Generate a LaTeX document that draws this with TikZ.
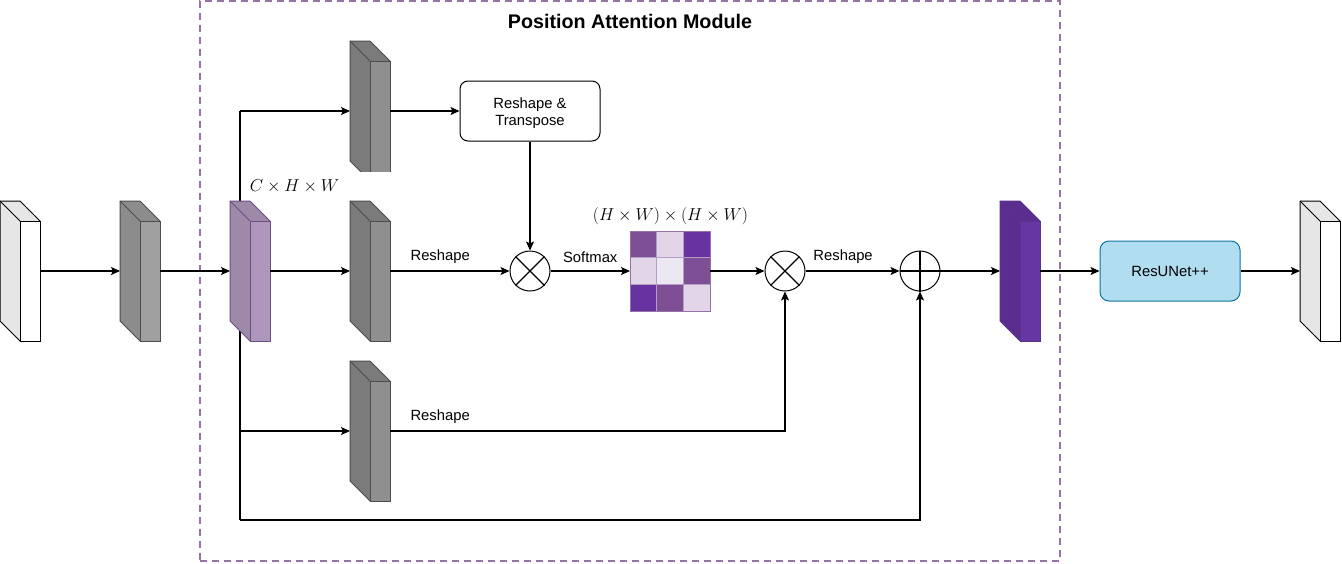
\documentclass[tikz,border=0pt]{standalone}
\usepackage{fontspec}
\setmainfont{Liberation Sans}
\usetikzlibrary{arrows.meta}
\definecolor{pamline}{HTML}{9673A6}
\definecolor{whiteside}{HTML}{E6E6E6}
\definecolor{g1side}{HTML}{8C8C8C}
\definecolor{g1front}{HTML}{A0A0A0}
\definecolor{g2side}{HTML}{7B7B7B}
\definecolor{g2front}{HTML}{8F8F8F}
\definecolor{gstroke}{HTML}{4D4D4D}
\definecolor{lpside}{HTML}{9E89A9}
\definecolor{lpfront}{HTML}{AE96BC}
\definecolor{lpstroke}{HTML}{6C4F83}
\definecolor{dpside}{HTML}{5B2D8E}
\definecolor{dpfront}{HTML}{6636A3}
\definecolor{dpstroke}{HTML}{5A3290}
\definecolor{mdark}{HTML}{6633A0}
\definecolor{mmid}{HTML}{7F4F96}
\definecolor{mlight}{HTML}{E1D5E7}
\definecolor{mpale}{HTML}{ECE8F2}
\definecolor{mgrid}{HTML}{B59CC6}
\definecolor{resfill}{HTML}{B1DDF0}
\definecolor{resline}{HTML}{10739E}
\newcommand{\mycube}[6]{%
  \node[minimum width=40, minimum height=140, inner sep=0, outer sep=0] (#1) at (#2+20,#3+70) {};
  \filldraw[fill=#4, draw=#6, line width=1pt, line join=round]
    (#2,#3) -- (#2+20,#3) -- (#2+40,#3+20) -- (#2+40,#3+140) -- (#2+20,#3+140) -- (#2,#3+120) -- cycle;
  \draw[draw=#6, line width=1pt] (#2,#3) -- (#2+20,#3+20);
  \filldraw[fill=#5, draw=#6, line width=1pt] (#2+20,#3+20) rectangle (#2+40,#3+140);
}
\tikzset{
  arr/.style={line width=1.1pt, -{Stealth[length=9pt, width=8pt, inset=2pt]}},
  ln/.style={line width=1.1pt},
  lbl/.style={font=\fontsize{14.8}{17}\selectfont, inner sep=0pt},
  opnode/.style={circle, draw, line width=1pt, minimum size=40, inner sep=0, fill=white},
  cell/.style={draw=mgrid, line width=1pt, minimum size=80/3, inner sep=0, outer sep=0},
}
\begin{document}
\begin{tikzpicture}[x=1pt, y=-1pt]
\useasboundingbox (0,0) rectangle (1342,563);
% module frame
\node[draw=pamline, dashed, dash pattern=on 7pt off 5pt, line width=1.5pt, minimum width=860, minimum height=560, inner sep=0] (pam) at (630,281) {};
\node[font=\fontsize{19.7}{22}\selectfont\bfseries, inner sep=0] (title) at (630,21) {Position Attention Module};
% branch lines behind cubes
\coordinate (j1) at (240,111);
\coordinate (j3) at (240,431);
\coordinate (j2) at (240,520);
\draw[ln] (j1) -- (j2);
% cubes
\mycube{c0}{0}{201}{whiteside}{white}{black}
\mycube{c1}{120}{201}{g1side}{g1front}{gstroke}
\mycube{c2}{230}{201}{lpside}{lpfront}{lpstroke}
\begin{scope}
  \clip (300,0) rectangle (400,171.5);
  \mycube{ct}{350}{41}{g2side}{g2front}{gstroke}
\end{scope}
\mycube{cm}{350}{201}{g2side}{g2front}{gstroke}
\mycube{cb}{350}{361}{g2side}{g2front}{gstroke}
\mycube{c4}{1000}{201}{dpside}{dpfront}{dpstroke}
\mycube{c5}{1300}{201}{whiteside}{white}{black}
% operators and boxes
\node[draw, line width=1pt, rounded corners=8pt, minimum width=140, minimum height=60, align=center, font=\fontsize{14.8}{18}\selectfont] (rt) at (530,111) {};
\node[align=center, font=\fontsize{14.8}{17.5}\selectfont, inner sep=0] (rtx) at (530,113) {Reshape \&\\Transpose};
\node[opnode] (m1) at (530,271) {};
\draw[ln] (m1.north west) -- (m1.south east) (m1.north east) -- (m1.south west);
\node[opnode] (m2) at (785,271) {};
\draw[ln] (m2.north west) -- (m2.south east) (m2.north east) -- (m2.south west);
\node[opnode] (p) at (920,271) {};
\draw[ln] (p.north) -- (p.south) (p.west) -- (p.east);
\node[draw=resline, fill=resfill, line width=1pt, rounded corners=9pt, minimum width=140, minimum height=60, font=\fontsize{14.8}{17}\selectfont] (res) at (1170,271) {ResUNet++};
% attention matrix
\node[minimum size=80, inner sep=0, outer sep=0] (sm) at (670,271) {};
\node[cell, fill=mmid]   (s11) at (670-80/3,271-80/3) {};
\node[cell, fill=mlight] (s12) at (670,271-80/3) {};
\node[cell, fill=mdark]  (s13) at (670+80/3,271-80/3) {};
\node[cell, fill=mlight] (s21) at (670-80/3,271) {};
\node[cell, fill=mpale]  (s22) at (670,271) {};
\node[cell, fill=mmid]   (s23) at (670+80/3,271) {};
\node[cell, fill=mdark]  (s31) at (670-80/3,271+80/3) {};
\node[cell, fill=mmid]   (s32) at (670,271+80/3) {};
\node[cell, fill=mlight] (s33) at (670+80/3,271+80/3) {};
\draw[draw=pamline, line width=1pt] (sm.north west) rectangle (sm.south east);
% math labels
\node[font=\fontsize{18.2}{20}\selectfont, inner sep=0] (chw) at (294.5,186) {$C\times H\times W$};
\node[font=\fontsize{18.2}{20}\selectfont, inner sep=0] (hw) at (670.5,216) {$(H\times W)\times(H\times W)$};
% connectors
\draw[arr] (c0.east) -- (c1.west);
\draw[arr] (c1.east) -- (c2.west);
\draw[arr] (c2.east) -- (cm.west);
\draw[arr] (j1) -- (ct.west);
\draw[arr] (j3) -- (cb.west);
\draw[arr] (j2) -- (p.south |- j2) -- (p.south);
\draw[arr] (ct.east) -- (rt.west);
\draw[arr] (rt.south) -- (m1.north);
\draw[arr] (cm.east) -- node[lbl, pos=0.42, yshift=14] {Reshape} (m1.west);
\draw[arr] (m1.east) -- node[lbl, pos=0.5, yshift=14] {Softmax} (sm.west);
\draw[arr] (sm.east) -- (m2.west);
\draw[arr] (cb.east) -- node[lbl, pos=0.127, yshift=14] {Reshape} (m2.south |- cb.east) -- (m2.south);
\draw[arr] (m2.east) -- node[lbl, pos=0.4, yshift=14] {Reshape} (p.west);
\draw[arr] (p.east) -- (c4.west);
\draw[arr] (c4.east) -- (res.west);
\draw[arr] (res.east) -- (c5.west);
\end{tikzpicture}
\end{document}
